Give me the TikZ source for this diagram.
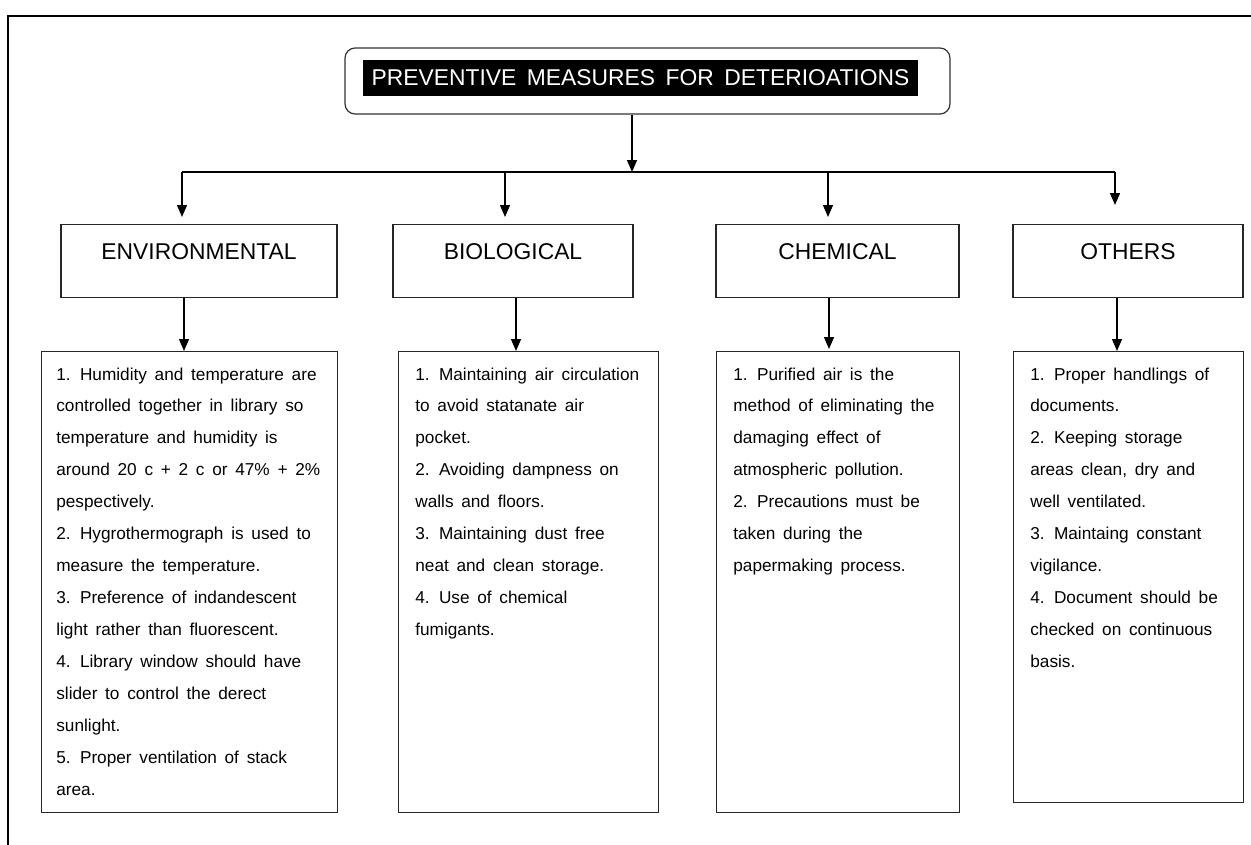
\documentclass[tikz,border=0pt]{standalone}
\usepackage{fontspec}
\setmainfont{Liberation Sans}
\usetikzlibrary{arrows.meta}
\begin{document}
\begin{tikzpicture}[x=0.02cm,y=-0.02cm,
  arr/.style={-{Triangle[width=0.2cm,length=0.24cm]}, line width=0.75pt},
  link/.style={line width=0.75pt},
  catbox/.style={draw=black!85, line width=0.65pt, anchor=north, inner xsep=0pt, inner ysep=0pt,
     text height=20.1pt, text depth=21.3pt, font=\fontsize{13pt}{15pt}\selectfont},
  detbox/.style={draw=black!85, line width=0.65pt, anchor=north west, inner sep=0pt},
  dettext/.style={anchor=base west, inner sep=0pt}
]
\useasboundingbox (0,0) rectangle (1251,845);
\newcommand{\dfont}{\fontsize{9.8pt}{18.17pt}\selectfont\spaceskip=4.4pt plus 0.5pt}

% page frame
\draw[line width=1.6pt] (8,845) -- (8,16) -- (1251,16);

% title
\node[draw=black!80, line width=0.7pt, rounded corners=0.2cm, minimum width=12.1cm, minimum height=1.32cm] (title) at (647.5,81) {};
\node[fill=black, text=white, minimum width=11.1cm, minimum height=0.72cm, inner sep=0pt,
  font=\fontsize{13pt}{15pt}\selectfont] (titletext) at (640.5,78)
  {\spaceskip=6pt PREVENTIVE MEASURES FOR DETERIOATIONS};

% categories
\node[catbox, minimum width=5.52cm] (envc) at (199,224) {ENVIRONMENTAL};
\node[catbox, minimum width=4.8cm] (bioc) at (513,224) {BIOLOGICAL};
\node[catbox, minimum width=4.86cm] (chemc) at (837.5,224) {CHEMICAL};
\node[catbox, minimum width=4.6cm] (othc) at (1128,224) {OTHERS};

% detail boxes
\node[detbox, minimum width=5.92cm, minimum height=9.22cm] (envd) at (41,351) {};
\node[detbox, minimum width=5.2cm, minimum height=9.22cm] (biod) at (398,351) {};
\node[detbox, minimum width=4.86cm, minimum height=9.22cm] (chemd) at (716,351) {};
\node[detbox, minimum width=4.6cm, minimum height=9.02cm] (othd) at (1013,351) {};

% texts
\node[dettext] (envt) at (56,380) {\parbox[t]{5.6cm}{\dfont
1. Humidity and temperature are\\
controlled together in library so\\
temperature and humidity is\\
around 20 c + 2 c or 47\% + 2\%\\
pespectively.\\
2. Hygrothermograph is used to\\
measure the temperature.\\
3. Preference of indandescent\\
light rather than fluorescent.\\
4. Library window should have\\
slider to control the derect\\
sunlight.\\
5. Proper ventilation of stack\\
area.}};
\node[dettext] (biot) at (415,380) {\parbox[t]{4.9cm}{\dfont
1. Maintaining air circulation\\
to avoid statanate air\\
pocket.\\
2. Avoiding dampness on\\
walls and floors.\\
3. Maintaining dust free\\
neat and clean storage.\\
4. Use of chemical\\
fumigants.}};
\node[dettext] (chemt) at (733,380) {\parbox[t]{4.5cm}{\dfont
1. Purified air is the\\
method of eliminating the\\
damaging effect of\\
atmospheric pollution.\\
2. Precautions must be\\
taken during the\\
papermaking process.}};
\node[dettext] (otht) at (1030,380) {\parbox[t]{4.2cm}{\dfont
1. Proper handlings of\\
documents.\\
2. Keeping storage\\
areas clean, dry and\\
well ventilated.\\
3. Maintaing constant\\
vigilance.\\
4. Document should be\\
checked on continuous\\
basis.}};

% connectors from title
\coordinate (j0) at (632,172);
\coordinate (j1) at (182,172);
\coordinate (j2) at (505,172);
\coordinate (j3) at (828,172);
\coordinate (j4) at (1115,172);
\coordinate (t1) at (182,217);
\coordinate (t2) at (505,217);
\coordinate (t3) at (828,217);
\coordinate (t4) at (1115,205);
\draw[arr] (title.south -| j0) -- (j0);
\draw[link] (j1) -- (j4);
\draw[arr] (j1) -- (t1);
\draw[arr] (j2) -- (t2);
\draw[arr] (j3) -- (t3);
\draw[arr] (j4) -- (t4);

% category to details
\coordinate (b1) at (184,351);
\coordinate (b2) at (516,351);
\coordinate (b3) at (829,349);
\coordinate (b4) at (1117,351);
\draw[arr] (envc.south -| b1) -- (b1);
\draw[arr] (bioc.south -| b2) -- (b2);
\draw[arr] (chemc.south -| b3) -- (b3);
\draw[arr] (othc.south -| b4) -- (b4);
\end{tikzpicture}
\end{document}
